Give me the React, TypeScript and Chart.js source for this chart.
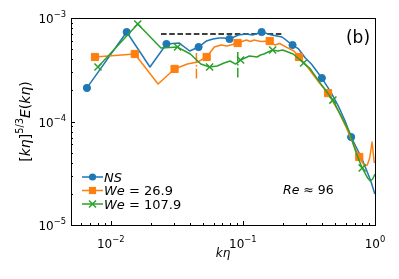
import React, { useEffect, useRef } from 'react';
import { Chart, registerables } from 'chart.js';

Chart.register(...registerables);

// ---- data (kη, [kη]^{5/3} E(kη)) ----
const nsKeta = [0.0066, 0.0132, 0.0198, 0.0264, 0.033, 0.0396, 0.0462, 0.0528, 0.0594, 0.066, 0.0726, 0.0792, 0.0924, 0.1056, 0.1188, 0.132, 0.1386, 0.165, 0.198, 0.2376, 0.264, 0.297, 0.33, 0.396, 0.462, 0.528, 0.594, 0.66, 0.792, 0.924, 0.997];
const nsSpectrum = [2.11e-4, 7.32e-4, 3.36e-4, 5.61e-4, 5.73e-4, 4.8e-4, 5.24e-4, 5.99e-4, 6.27e-4, 6.41e-4, 6.41e-4, 6.27e-4, 6.85e-4, 7.0e-4, 6.85e-4, 7.16e-4, 7.32e-4, 6.85e-4, 6.55e-4, 5.48e-4, 5.02e-4, 4.11e-4, 3.59e-4, 2.63e-4, 1.93e-4, 1.41e-4, 1.01e-4, 7.08e-5, 4.44e-5, 2.72e-5, 1.99e-5];
const nsMarkerIdx = [0, 1, 3, 6, 11, 16, 19, 23, 27];

const we26Keta = [0.0076, 0.0152, 0.0228, 0.0304, 0.038, 0.0456, 0.0532, 0.0608, 0.0684, 0.076, 0.0912, 0.1064, 0.114, 0.1216, 0.1368, 0.1596, 0.1748, 0.19, 0.2128, 0.2432, 0.266, 0.304, 0.342, 0.38, 0.4408, 0.532, 0.608, 0.684, 0.76, 0.798, 0.836, 0.874, 0.912, 0.95, 0.988];
const we26Spectrum = [4.2e-4, 4.49e-4, 2.3e-4, 3.22e-4, 3.59e-4, 3.76e-4, 4.2e-4, 5.24e-4, 5.48e-4, 5.36e-4, 5.73e-4, 6.13e-4, 5.93e-4, 6.13e-4, 5.93e-4, 5.99e-4, 5.48e-4, 5.67e-4, 5.24e-4, 4.8e-4, 4.2e-4, 3.44e-4, 2.81e-4, 2.35e-4, 1.88e-4, 1.24e-4, 8.65e-5, 6.07e-5, 4.54e-5, 4.06e-5, 3.72e-5, 3.8e-5, 4.44e-5, 6.34e-5, 3.97e-5];
const we26MarkerIdx = [0, 1, 3, 6, 10, 15, 20, 24, 28];

const we108Keta = [0.008, 0.016, 0.024, 0.032, 0.04, 0.048, 0.056, 0.064, 0.072, 0.08, 0.088, 0.096, 0.112, 0.128, 0.136, 0.144, 0.168, 0.184, 0.2, 0.24, 0.288, 0.32, 0.4, 0.48, 0.56, 0.64, 0.72, 0.8, 0.88, 0.92, 0.96, 1.0];
const we108Spectrum = [3.36e-4, 8.75e-4, 5.13e-4, 5.24e-4, 4.49e-4, 3.59e-4, 3.36e-4, 3.44e-4, 3.67e-4, 3.84e-4, 3.59e-4, 3.93e-4, 4.29e-4, 4.2e-4, 4.39e-4, 4.49e-4, 4.91e-4, 4.8e-4, 4.91e-4, 4.49e-4, 3.67e-4, 3.29e-4, 2.2e-4, 1.61e-4, 1.1e-4, 7.92e-5, 4.97e-5, 3.56e-5, 2.84e-5, 2.66e-5, 2.78e-5, 3.11e-5];
const we108MarkerIdx = [0, 1, 3, 6, 11, 16, 20, 23, 27];

// reference plateau (dashed) and scale markers (dash-dot)
const plateauKeta = [0.024, 0.205];
const plateauLevel = [7.0e-4, 7.0e-4];
const we26MarkKeta = [0.0445, 0.0445];
const we26MarkLevel = [4.6e-4, 2.6e-4];
const we108MarkKeta = [0.0915, 0.0915];
const we108MarkLevel = [4.7e-4, 2.6e-4];

// axes
const xRange = [0.005, 1];
const yRange = [1e-5, 1e-3];
const xMajorTicks = [0.01, 0.1, 1];
const xMajorExp = ['\u22122', '\u22121', '0'];
const yMajorTicks = [1e-5, 1e-4, 1e-3];
const yMajorExp = ['\u22125', '\u22124', '\u22123'];

const BLUE = '#1f77b4';
const ORANGE = '#ff7f0e';
const GREEN = '#2ca02c';
const FAMILY = "'DejaVu Sans', sans-serif";

type Seg = { t: string; it?: boolean; sup?: boolean };

function drawRich(ctx: CanvasRenderingContext2D, segs: Seg[], x: number, y: number, size: number, align: 'left' | 'center' | 'right') {
  const supSize = size * 0.7;
  const rise = size * 0.5;
  const fontOf = (s: Seg) => `${s.it ? 'italic ' : ''}${s.sup ? supSize : size}px ${FAMILY}`;
  const widths = segs.map((s) => {
    ctx.font = fontOf(s);
    return ctx.measureText(s.t).width;
  });
  const total = widths.reduce((a, b) => a + b, 0);
  let cx = align === 'left' ? x : align === 'center' ? x - total / 2 : x - total;
  ctx.textAlign = 'left';
  ctx.textBaseline = 'alphabetic';
  segs.forEach((s, i) => {
    ctx.font = fontOf(s);
    ctx.fillText(s.t, cx, s.sup ? y - rise : y);
    cx += widths[i];
  });
}

function drawMarker(ctx: CanvasRenderingContext2D, style: string, x: number, y: number, color: string) {
  ctx.save();
  ctx.fillStyle = color;
  ctx.strokeStyle = color;
  if (style === 'circle') {
    ctx.beginPath();
    ctx.arc(x, y, 3.6, 0, Math.PI * 2);
    ctx.fill();
  } else if (style === 'rect') {
    ctx.fillRect(x - 3.6, y - 3.6, 7.2, 7.2);
  } else {
    ctx.lineWidth = 1.5;
    ctx.beginPath();
    ctx.moveTo(x - 3.5, y - 3.5);
    ctx.lineTo(x + 3.5, y + 3.5);
    ctx.moveTo(x - 3.5, y + 3.5);
    ctx.lineTo(x + 3.5, y - 3.5);
    ctx.stroke();
  }
  ctx.restore();
}

const legendEntries: { color: string; style: string; segs: Seg[] }[] = [
  { color: BLUE, style: 'circle', segs: [{ t: 'NS', it: true }] },
  { color: ORANGE, style: 'rect', segs: [{ t: 'We', it: true }, { t: ' = 26.9' }] },
  { color: GREEN, style: 'crossRot', segs: [{ t: 'We', it: true }, { t: ' = 107.9' }] },
];

const decorPlugin = {
  id: 'decor',
  afterDraw(chart: any) {
    const ctx: CanvasRenderingContext2D = chart.ctx;
    const xs = chart.scales.x;
    const ys = chart.scales.y;
    const { left, right, top, bottom } = chart.chartArea;
    ctx.save();
    ctx.strokeStyle = '#000';
    ctx.fillStyle = '#000';
    ctx.lineWidth = 1;
    // frame
    ctx.strokeRect(left + 0.5, top + 0.5, right - left, bottom - top);

    // ticks (inward)
    const tick = (px: number, len: number, horiz: boolean) => {
      ctx.beginPath();
      if (horiz) {
        const p = Math.round(px) + 0.5;
        ctx.moveTo(p, bottom);
        ctx.lineTo(p, bottom - len);
      } else {
        const p = Math.round(py(px)) + 0.5;
        ctx.moveTo(left, p);
        ctx.lineTo(left + len, p);
      }
      ctx.stroke();
    };
    const py = (v: number) => v;
    for (let e = -3; e <= 0; e++) {
      for (let m = 1; m <= 9; m++) {
        const v = m * Math.pow(10, e);
        if (v < xRange[0] * 0.999 || v > xRange[1] * 1.001) continue;
        tick(xs.getPixelForValue(v), m === 1 ? 4 : 2, true);
      }
    }
    for (let e = -5; e <= -3; e++) {
      for (let m = 1; m <= 9; m++) {
        const v = m * Math.pow(10, e);
        if (v < yRange[0] * 0.999 || v > yRange[1] * 1.001) continue;
        tick(ys.getPixelForValue(v), m === 1 ? 4 : 2, false);
      }
    }

    // tick labels
    xMajorTicks.forEach((v, i) => {
      drawRich(ctx, [{ t: '10' }, { t: xMajorExp[i], sup: true }], xs.getPixelForValue(v), 248, 12, 'center');
    });
    yMajorTicks.forEach((v, i) => {
      drawRich(ctx, [{ t: '10' }, { t: yMajorExp[i], sup: true }], 66, ys.getPixelForValue(v) + 5, 12, 'right');
    });

    // axis titles
    drawRich(ctx, [{ t: 'k\u03b7', it: true }], (left + right) / 2, 257, 12, 'center');
    ctx.save();
    ctx.translate(25, (top + bottom) / 2);
    ctx.rotate(-Math.PI / 2);
    drawRich(
      ctx,
      [
        { t: '[' },
        { t: 'k\u03b7', it: true },
        { t: ']' },
        { t: '5/3', sup: true },
        { t: 'E', it: true },
        { t: '(' },
        { t: 'k\u03b7', it: true },
        { t: ')' },
      ],
      0,
      5,
      14,
      'center'
    );
    ctx.restore();

    // annotations
    drawRich(ctx, [{ t: '(b)' }], 358, 43, 17, 'center');
    drawRich(ctx, [{ t: 'Re', it: true }, { t: ' \u2248 96' }], 283, 193.5, 12.5, 'left');

    // legend
    const rows = [177, 190.5, 204];
    legendEntries.forEach((en, i) => {
      const y = rows[i];
      ctx.save();
      ctx.strokeStyle = en.color;
      ctx.lineWidth = 1.5;
      ctx.beginPath();
      ctx.moveTo(82, y);
      ctx.lineTo(103, y);
      ctx.stroke();
      ctx.restore();
      drawMarker(ctx, en.style, 92.5, y, en.color);
      ctx.fillStyle = '#000';
      drawRich(ctx, en.segs, 104, y + 4.6, 13, 'left');
    });
    ctx.restore();
  },
};

function series(xs: number[], ys: number[]) {
  return xs.map((x, i) => ({ x, y: ys[i] }));
}

function markerRadius(idx: number[], r: number) {
  return (c: any) => (idx.includes(c.dataIndex) ? r : 0);
}

export default function App() {
  const ref = useRef<HTMLCanvasElement | null>(null);
  useEffect(() => {
    if (!ref.current) return;
    const chart = new Chart(ref.current, {
      type: 'line',
      data: {
        datasets: [
          {
            label: 'plateau',
            data: series(plateauKeta, plateauLevel),
            borderColor: '#000',
            borderWidth: 1.5,
            borderDash: [5.6, 2.6],
            pointRadius: 0,
            order: 5,
          },
          {
            label: 'NS',
            data: series(nsKeta, nsSpectrum),
            borderColor: BLUE,
            backgroundColor: BLUE,
            borderWidth: 1.5,
            borderJoinStyle: 'round',
            pointStyle: 'circle',
            pointRadius: markerRadius(nsMarkerIdx, 3.6),
            pointBackgroundColor: BLUE,
            pointBorderColor: BLUE,
            pointBorderWidth: 1,
            order: 4,
          },
          {
            label: 'We = 26.9',
            data: series(we26Keta, we26Spectrum),
            borderColor: ORANGE,
            backgroundColor: ORANGE,
            borderWidth: 1.5,
            borderJoinStyle: 'round',
            pointStyle: 'rect',
            pointRadius: markerRadius(we26MarkerIdx, 5.1),
            pointBackgroundColor: ORANGE,
            pointBorderColor: ORANGE,
            pointBorderWidth: 1,
            order: 3,
          },
          {
            label: 'We26 scale',
            data: series(we26MarkKeta, we26MarkLevel),
            borderColor: ORANGE,
            borderWidth: 1.5,
            borderDash: [9.6, 2.4, 1.5, 2.4],
            pointRadius: 0,
            order: 2,
          },
          {
            label: 'We = 107.9',
            data: series(we108Keta, we108Spectrum),
            borderColor: GREEN,
            backgroundColor: GREEN,
            borderWidth: 1.5,
            borderJoinStyle: 'round',
            pointStyle: 'crossRot',
            pointRadius: markerRadius(we108MarkerIdx, 5),
            pointBackgroundColor: GREEN,
            pointBorderColor: GREEN,
            pointBorderWidth: 1.5,
            order: 1,
          },
          {
            label: 'We108 scale',
            data: series(we108MarkKeta, we108MarkLevel),
            borderColor: GREEN,
            borderWidth: 1.5,
            borderDash: [9.6, 2.4, 1.5, 2.4],
            pointRadius: 0,
            order: 0,
          },
        ],
      },
      options: {
        animation: false,
        responsive: false,
        events: [],
        layout: { padding: { left: 0, right: 24, top: 18, bottom: 0 } },
        plugins: { legend: { display: false }, tooltip: { enabled: false } },
        scales: {
          x: {
            type: 'logarithmic',
            min: xRange[0],
            max: xRange[1],
            grid: { display: false },
            border: { display: false },
            ticks: { display: false },
            afterFit: (s: any) => {
              s.height = 54;
            },
          },
          y: {
            type: 'logarithmic',
            min: yRange[0],
            max: yRange[1],
            grid: { display: false },
            border: { display: false },
            ticks: { display: false },
            afterFit: (s: any) => {
              s.width = 71;
            },
          },
        },
      },
      plugins: [decorPlugin],
    } as any);
    return () => chart.destroy();
  }, []);
  return (
    <div style={{ position: 'absolute', left: 0, top: 0, width: 399, height: 279, background: '#fff' }}>
      <canvas ref={ref} width={399} height={279} style={{ display: 'block', width: 399, height: 279 }} />
    </div>
  );
}
